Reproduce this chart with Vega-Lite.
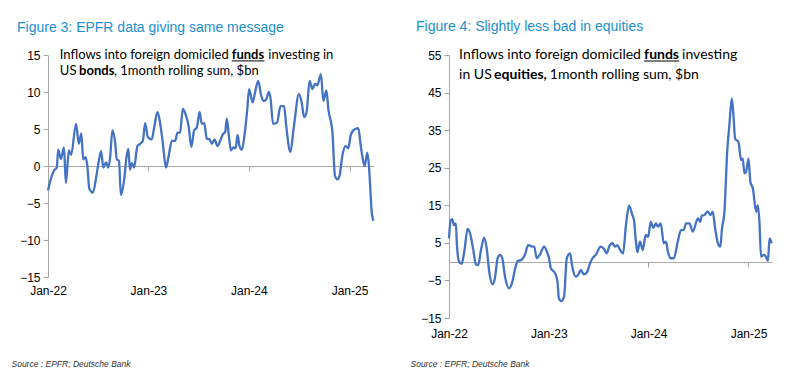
{
  "$schema": "https://vega.github.io/schema/vega-lite/v6.json",
  "padding": {"left": 11, "top": 20, "right": 0, "bottom": 0},
  "background": "white",
  "spacing": 31,
  "config": {"view": {"stroke": null}, "font": "Liberation Sans"},
  "datasets": {
    "bonds": [
      {"date":"2022-01-01","value":-3.3},{"date":"2022-01-08","value":-2.2},{"date":"2022-01-23","value":-0.6},{"date":"2022-02-02","value":-0.2},{"date":"2022-02-07","value":2.2},{"date":"2022-02-17","value":0.95},{"date":"2022-02-28","value":2.5},{"date":"2022-03-07","value":-2.3},{"date":"2022-03-18","value":2.1},{"date":"2022-03-26","value":1.5},{"date":"2022-04-13","value":5.7},{"date":"2022-04-23","value":3.0},{"date":"2022-05-02","value":4.4},{"date":"2022-05-09","value":0.9},{"date":"2022-05-17","value":1.2},{"date":"2022-05-24","value":0},{"date":"2022-05-31","value":-3.0},{"date":"2022-06-13","value":-3.6},{"date":"2022-06-27","value":-1.1},{"date":"2022-07-03","value":0.3},{"date":"2022-07-13","value":2.0},{"date":"2022-07-21","value":-0.2},{"date":"2022-07-31","value":0.5},{"date":"2022-08-08","value":-0.2},{"date":"2022-08-15","value":1.2},{"date":"2022-08-23","value":4.8},{"date":"2022-09-02","value":3.2},{"date":"2022-09-08","value":0.9},{"date":"2022-09-16","value":0.7},{"date":"2022-09-23","value":-3.9},{"date":"2022-10-05","value":-1.8},{"date":"2022-10-14","value":1.4},{"date":"2022-10-20","value":2.3},{"date":"2022-10-26","value":-0.5},{"date":"2022-11-02","value":0.4},{"date":"2022-11-10","value":-0.2},{"date":"2022-11-22","value":2.7},{"date":"2022-12-02","value":3.0},{"date":"2022-12-12","value":3.4},{"date":"2022-12-20","value":5.8},{"date":"2022-12-30","value":3.9},{"date":"2023-01-13","value":3.6},{"date":"2023-01-22","value":5.2},{"date":"2023-02-03","value":7.3},{"date":"2023-02-13","value":5.7},{"date":"2023-02-22","value":3.2},{"date":"2023-03-06","value":-0.2},{"date":"2023-03-15","value":1.2},{"date":"2023-03-27","value":3.4},{"date":"2023-04-08","value":3.4},{"date":"2023-04-17","value":4.5},{"date":"2023-04-26","value":4.5},{"date":"2023-05-06","value":7.7},{"date":"2023-05-16","value":7.0},{"date":"2023-05-27","value":5.4},{"date":"2023-06-06","value":2.6},{"date":"2023-06-16","value":4.8},{"date":"2023-06-26","value":5.2},{"date":"2023-07-06","value":7.3},{"date":"2023-07-14","value":5.7},{"date":"2023-07-23","value":5.8},{"date":"2023-08-01","value":3.7},{"date":"2023-08-11","value":3.6},{"date":"2023-08-20","value":3.0},{"date":"2023-08-29","value":3.6},{"date":"2023-09-09","value":2.7},{"date":"2023-09-19","value":3.4},{"date":"2023-09-29","value":4.3},{"date":"2023-10-07","value":4.6},{"date":"2023-10-13","value":6.4},{"date":"2023-10-21","value":3.9},{"date":"2023-10-28","value":2.1},{"date":"2023-11-06","value":2.5},{"date":"2023-11-14","value":2.4},{"date":"2023-11-21","value":4.2},{"date":"2023-11-28","value":2.7},{"date":"2023-12-07","value":2.2},{"date":"2023-12-16","value":4.1},{"date":"2023-12-26","value":7.5},{"date":"2024-01-02","value":10.4},{"date":"2024-01-15","value":8.6},{"date":"2024-01-24","value":10.0},{"date":"2024-02-04","value":11.5},{"date":"2024-02-15","value":9.5},{"date":"2024-02-24","value":8.8},{"date":"2024-03-04","value":9.0},{"date":"2024-03-14","value":10.0},{"date":"2024-03-20","value":9.1},{"date":"2024-03-29","value":5.7},{"date":"2024-04-13","value":5.9},{"date":"2024-04-25","value":8.1},{"date":"2024-05-08","value":8.1},{"date":"2024-05-16","value":5.4},{"date":"2024-05-31","value":1.9},{"date":"2024-06-13","value":5.4},{"date":"2024-07-01","value":9.7},{"date":"2024-07-11","value":8.6},{"date":"2024-07-20","value":6.6},{"date":"2024-07-29","value":7.3},{"date":"2024-08-09","value":11.5},{"date":"2024-08-19","value":10.4},{"date":"2024-08-29","value":11.1},{"date":"2024-09-06","value":10.9},{"date":"2024-09-19","value":12.4},{"date":"2024-09-28","value":8.8},{"date":"2024-10-09","value":10.2},{"date":"2024-10-16","value":7.7},{"date":"2024-10-31","value":4.5},{"date":"2024-11-09","value":-1.3},{"date":"2024-11-18","value":-1.8},{"date":"2024-11-26","value":-1.3},{"date":"2024-12-06","value":1.4},{"date":"2024-12-18","value":2.7},{"date":"2024-12-28","value":2.4},{"date":"2025-01-05","value":4.1},{"date":"2025-01-17","value":4.9},{"date":"2025-02-02","value":5.1},{"date":"2025-02-11","value":2.7},{"date":"2025-02-17","value":1.2},{"date":"2025-02-25","value":0},{"date":"2025-03-07","value":1.8},{"date":"2025-03-13","value":-0.2},{"date":"2025-03-19","value":-4.0},{"date":"2025-03-23","value":-6.3},{"date":"2025-03-29","value":-7.4}
    ],
    "equities": [
      {"date":"2022-01-01","value":6.2},{"date":"2022-01-07","value":11.0},{"date":"2022-01-13","value":11.3},{"date":"2022-01-19","value":9.7},{"date":"2022-01-26","value":10.2},{"date":"2022-01-30","value":4.4},{"date":"2022-02-07","value":0},{"date":"2022-02-16","value":-0.6},{"date":"2022-02-26","value":2.7},{"date":"2022-03-10","value":8.7},{"date":"2022-03-19","value":7.5},{"date":"2022-03-31","value":3.1},{"date":"2022-04-09","value":-0.7},{"date":"2022-04-18","value":-0.9},{"date":"2022-04-28","value":3.1},{"date":"2022-05-10","value":6.4},{"date":"2022-05-19","value":3.5},{"date":"2022-05-29","value":-3.1},{"date":"2022-06-09","value":-6.0},{"date":"2022-06-18","value":-4.4},{"date":"2022-06-28","value":0.9},{"date":"2022-07-07","value":1.8},{"date":"2022-07-15","value":0.9},{"date":"2022-07-25","value":-4.0},{"date":"2022-08-09","value":-7.1},{"date":"2022-08-19","value":-5.8},{"date":"2022-09-02","value":-1.3},{"date":"2022-09-10","value":0.2},{"date":"2022-09-22","value":0.4},{"date":"2022-10-06","value":1.9},{"date":"2022-10-18","value":4.4},{"date":"2022-11-02","value":4.0},{"date":"2022-11-09","value":4.0},{"date":"2022-11-18","value":0.9},{"date":"2022-11-30","value":1.9},{"date":"2022-12-15","value":4.0},{"date":"2022-12-25","value":2.7},{"date":"2023-01-02","value":0.9},{"date":"2023-01-09","value":-1.8},{"date":"2023-01-24","value":-3.1},{"date":"2023-02-02","value":-5.3},{"date":"2023-02-07","value":-9.7},{"date":"2023-02-16","value":-10.5},{"date":"2023-02-26","value":-9.3},{"date":"2023-03-08","value":0.9},{"date":"2023-03-20","value":2.2},{"date":"2023-03-28","value":-1.3},{"date":"2023-04-10","value":-4.0},{"date":"2023-04-22","value":-3.1},{"date":"2023-04-28","value":-2.2},{"date":"2023-05-10","value":-3.4},{"date":"2023-05-22","value":-2.7},{"date":"2023-06-01","value":-0.5},{"date":"2023-06-10","value":0.9},{"date":"2023-06-22","value":1.8},{"date":"2023-07-10","value":4.0},{"date":"2023-07-23","value":3.3},{"date":"2023-08-01","value":2.2},{"date":"2023-08-10","value":4.0},{"date":"2023-08-22","value":4.9},{"date":"2023-09-01","value":4.0},{"date":"2023-09-09","value":4.4},{"date":"2023-09-19","value":3.1},{"date":"2023-09-30","value":2.2},{"date":"2023-10-10","value":9.3},{"date":"2023-10-22","value":14.9},{"date":"2023-11-03","value":12.4},{"date":"2023-11-09","value":11.0},{"date":"2023-11-16","value":5.3},{"date":"2023-11-21","value":2.5},{"date":"2023-12-01","value":5.3},{"date":"2023-12-11","value":3.1},{"date":"2023-12-22","value":7.1},{"date":"2023-12-31","value":6.6},{"date":"2024-01-09","value":10.6},{"date":"2024-01-19","value":9.0},{"date":"2024-01-28","value":10.2},{"date":"2024-02-05","value":9.3},{"date":"2024-02-15","value":10.2},{"date":"2024-02-26","value":4.9},{"date":"2024-03-05","value":5.3},{"date":"2024-03-12","value":2.7},{"date":"2024-03-21","value":0.9},{"date":"2024-04-03","value":0.9},{"date":"2024-04-17","value":5.3},{"date":"2024-04-29","value":8.4},{"date":"2024-05-08","value":8.4},{"date":"2024-05-18","value":10.2},{"date":"2024-05-30","value":10.2},{"date":"2024-06-11","value":8.0},{"date":"2024-06-30","value":11.5},{"date":"2024-07-08","value":10.6},{"date":"2024-07-14","value":12.2},{"date":"2024-07-24","value":12.4},{"date":"2024-08-05","value":13.4},{"date":"2024-08-15","value":12.4},{"date":"2024-08-23","value":13.3},{"date":"2024-09-01","value":8.8},{"date":"2024-09-11","value":4.9},{"date":"2024-09-20","value":4.0},{"date":"2024-09-26","value":8.8},{"date":"2024-10-05","value":13.3},{"date":"2024-10-15","value":29.2},{"date":"2024-10-23","value":36.3},{"date":"2024-11-01","value":43.4},{"date":"2024-11-07","value":38.9},{"date":"2024-11-13","value":32.7},{"date":"2024-11-25","value":31.9},{"date":"2024-12-05","value":27.0},{"date":"2024-12-11","value":27.4},{"date":"2024-12-17","value":23.5},{"date":"2024-12-23","value":23.9},{"date":"2025-01-01","value":27.4},{"date":"2025-01-08","value":21.2},{"date":"2025-01-17","value":19.5},{"date":"2025-01-29","value":13.3},{"date":"2025-02-04","value":15.0},{"date":"2025-02-10","value":10.6},{"date":"2025-02-16","value":1.3},{"date":"2025-02-26","value":1.8},{"date":"2025-03-06","value":1.3},{"date":"2025-03-13","value":0.2},{"date":"2025-03-19","value":6.2},{"date":"2025-03-27","value":4.9}
    ]
  },
  "hconcat": [
    {
      "width": 326,
      "height": 222,
      "title": {"text": "Figure 3: EPFR data giving same message", "anchor": "start", "frame": "group", "dx": -31, "offset": 14, "font": "Liberation Sans", "fontSize": 14, "fontWeight": "normal", "color": "#1b8fcf"},
      "layer": [
        {
          "data": {"name": "bonds"},
          "mark": {"type": "line", "color": "#4472C4", "strokeWidth": 2.3, "interpolate": "monotone"},
          "encoding": {
            "x": {"field": "date", "type": "temporal",
              "scale": {"domain": [{"year": 2022, "month": 1, "date": 1}, {"year": 2025, "month": 3, "date": 31}], "nice": false},
              "axis": {"values": [{"year": 2022, "month": 1, "date": 1}, {"year": 2023, "month": 1, "date": 1}, {"year": 2024, "month": 1, "date": 1}, {"year": 2025, "month": 1, "date": 1}], "tickCount": 20,
                "format": "%b-%y", "offset": -111, "grid": false, "domainColor": "#a6a6a6", "tickColor": "#a6a6a6", "tickSize": 5, "labelPadding": 114, "labelFlush": false, "labelOverlap": false, "labelFont": "Liberation Sans", "labelFontSize": 12, "labelColor": "#000000",
                "title": "Source : EPFR; Deutsche Bank", "titleX": -37, "titleY": 197, "titleAlign": "left", "titleBaseline": "middle", "titleFont": "Liberation Sans", "titleFontStyle": "italic", "titleFontWeight": "normal", "titleFontSize": 8.5, "titleColor": "#333333"}},
            "y": {"field": "value", "type": "quantitative",
              "scale": {"domain": [-15, 15], "nice": false, "zero": false},
              "axis": {"values": [-15, -10, -5, 0, 5, 10, 15], "tickCount": 20, "grid": false, "title": null, "domainColor": "#a6a6a6", "tickColor": "#a6a6a6", "tickSize": 5, "labelPadding": 3, "labelFlush": false, "labelOverlap": false, "labelFont": "Liberation Sans", "labelFontSize": 12, "labelColor": "#000000"}}
          }
        },
        {"data": {"values": [{}]}, "mark": {"type": "text", "text": "Inflows into foreign domiciled", "font": "Lato", "fontSize": 13, "align": "left", "baseline": "middle", "color": "#000000"},
          "encoding": {"x": {"datum": {"year": 2022, "month": 2, "date": 13}, "type": "temporal"}, "y": {"datum": 15}}},
        {"data": {"values": [{}]}, "mark": {"type": "text", "text": "funds", "font": "Lato", "fontSize": 13, "fontWeight": "bold", "align": "left", "baseline": "middle", "color": "#000000"},
          "encoding": {"x": {"datum": {"year": 2023, "month": 10, "date": 31}, "type": "temporal"}, "y": {"datum": 15}}},
        {"data": {"values": [{}]}, "mark": {"type": "text", "text": "investing in", "font": "Lato", "fontSize": 13, "align": "left", "baseline": "middle", "color": "#000000"},
          "encoding": {"x": {"datum": {"year": 2024, "month": 3, "date": 12}, "type": "temporal"}, "y": {"datum": 15}}},
        {"data": {"values": [{}]}, "mark": {"type": "rule", "color": "#000000", "strokeWidth": 1},
          "encoding": {"x": {"datum": {"year": 2023, "month": 10, "date": 31}, "type": "temporal"}, "x2": {"datum": {"year": 2024, "month": 2, "date": 27}}, "y": {"datum": 14.2}}},
        {"data": {"values": [{}]}, "mark": {"type": "text", "text": "US", "font": "Lato", "fontSize": 13, "align": "left", "baseline": "middle", "color": "#000000"},
          "encoding": {"x": {"datum": {"year": 2022, "month": 2, "date": 13}, "type": "temporal"}, "y": {"datum": 12.8}}},
        {"data": {"values": [{}]}, "mark": {"type": "text", "text": "bonds", "font": "Lato", "fontSize": 13, "fontWeight": "bold", "align": "left", "baseline": "middle", "color": "#000000"},
          "encoding": {"x": {"datum": {"year": 2022, "month": 4, "date": 24}, "type": "temporal"}, "y": {"datum": 12.8}}},
        {"data": {"values": [{}]}, "mark": {"type": "text", "text": ", 1month rolling sum, $bn", "font": "Lato", "fontSize": 13, "align": "left", "baseline": "middle", "color": "#000000"},
          "encoding": {"x": {"datum": {"year": 2022, "month": 8, "date": 29}, "type": "temporal"}, "y": {"datum": 12.8}}}
      ]
    },
    {
      "width": 323,
      "height": 263,
      "title": {"text": "Figure 4: Slightly less bad in equities", "anchor": "start", "frame": "group", "dx": -33, "offset": 14, "font": "Liberation Sans", "fontSize": 14, "fontWeight": "normal", "color": "#1b8fcf"},
      "layer": [
        {
          "data": {"name": "equities"},
          "mark": {"type": "line", "color": "#4472C4", "strokeWidth": 2.3, "interpolate": "monotone"},
          "encoding": {
            "x": {"field": "date", "type": "temporal",
              "scale": {"domain": [{"year": 2022, "month": 1, "date": 1}, {"year": 2025, "month": 3, "date": 28}], "nice": false},
              "axis": {"values": [{"year": 2022, "month": 1, "date": 1}, {"year": 2023, "month": 1, "date": 1}, {"year": 2024, "month": 1, "date": 1}, {"year": 2025, "month": 1, "date": 1}], "tickCount": 20,
                "format": "%b-%y", "offset": -56, "grid": false, "domainColor": "#a6a6a6", "tickColor": "#a6a6a6", "tickSize": 5, "labelPadding": 61, "labelFlush": false, "labelOverlap": false, "labelFont": "Liberation Sans", "labelFontSize": 12, "labelColor": "#000000",
                "title": "Source : EPFR; Deutsche Bank", "titleX": -39, "titleY": 101, "titleAlign": "left", "titleBaseline": "middle", "titleFont": "Liberation Sans", "titleFontStyle": "italic", "titleFontWeight": "normal", "titleFontSize": 8.5, "titleColor": "#333333"}},
            "y": {"field": "value", "type": "quantitative",
              "scale": {"domain": [-15, 55], "nice": false, "zero": false},
              "axis": {"values": [-15, -5, 5, 15, 25, 35, 45, 55], "tickCount": 20, "grid": false, "title": null, "domainColor": "#a6a6a6", "tickColor": "#a6a6a6", "tickSize": 5, "labelPadding": 3, "labelFlush": false, "labelOverlap": false, "labelFont": "Liberation Sans", "labelFontSize": 12, "labelColor": "#000000"}}
          }
        },
        {"data": {"values": [{}]}, "mark": {"type": "text", "text": "Inflows into foreign domiciled", "font": "Lato", "fontSize": 14, "align": "left", "baseline": "middle", "color": "#000000"},
          "encoding": {"x": {"datum": {"year": 2022, "month": 2, "date": 7}, "type": "temporal"}, "y": {"datum": 55}}},
        {"data": {"values": [{}]}, "mark": {"type": "text", "text": "funds", "font": "Lato", "fontSize": 14, "fontWeight": "bold", "align": "left", "baseline": "middle", "color": "#000000"},
          "encoding": {"x": {"datum": {"year": 2023, "month": 12, "date": 16}, "type": "temporal"}, "y": {"datum": 55}}},
        {"data": {"values": [{}]}, "mark": {"type": "text", "text": "investing", "font": "Lato", "fontSize": 14, "align": "left", "baseline": "middle", "color": "#000000"},
          "encoding": {"x": {"datum": {"year": 2024, "month": 5, "date": 3}, "type": "temporal"}, "y": {"datum": 55}}},
        {"data": {"values": [{}]}, "mark": {"type": "rule", "color": "#000000", "strokeWidth": 1},
          "encoding": {"x": {"datum": {"year": 2023, "month": 12, "date": 16}, "type": "temporal"}, "x2": {"datum": {"year": 2024, "month": 4, "date": 22}}, "y": {"datum": 53.4}}},
        {"data": {"values": [{}]}, "mark": {"type": "text", "text": "in US", "font": "Lato", "fontSize": 14, "align": "left", "baseline": "middle", "color": "#000000"},
          "encoding": {"x": {"datum": {"year": 2022, "month": 2, "date": 7}, "type": "temporal"}, "y": {"datum": 49.7}}},
        {"data": {"values": [{}]}, "mark": {"type": "text", "text": "equities,", "font": "Lato", "fontSize": 14, "fontWeight": "bold", "align": "left", "baseline": "middle", "color": "#000000"},
          "encoding": {"x": {"datum": {"year": 2022, "month": 6, "date": 15}, "type": "temporal"}, "y": {"datum": 49.7}}},
        {"data": {"values": [{}]}, "mark": {"type": "text", "text": "1month rolling sum, $bn", "font": "Lato", "fontSize": 14, "align": "left", "baseline": "middle", "color": "#000000"},
          "encoding": {"x": {"datum": {"year": 2023, "month": 1, "date": 5}, "type": "temporal"}, "y": {"datum": 49.7}}}
      ]
    }
  ]
}
